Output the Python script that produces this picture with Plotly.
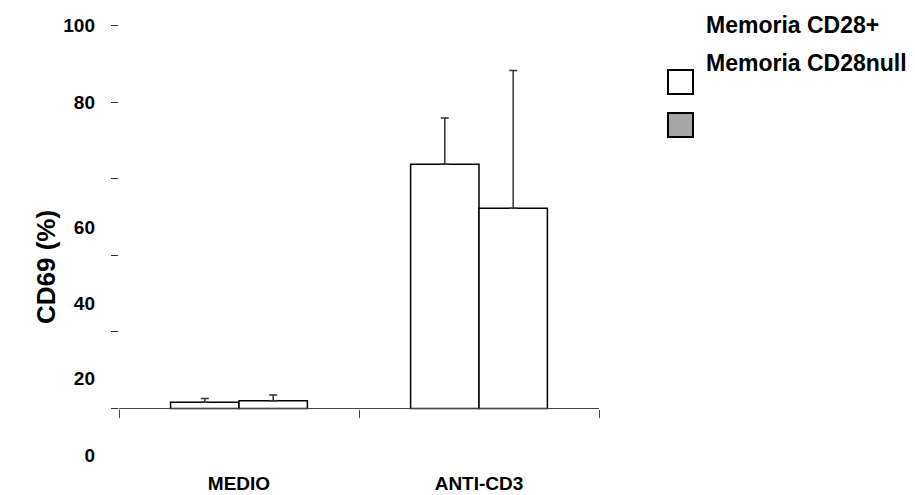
import plotly.graph_objects as go

categories = ["MEDIO", "ANTI-CD3"]
series_names = ["Memoria CD28+", "Memoria CD28null"]
cd28pos = [1.6, 63.8]
cd28pos_err = [1.0, 12.1]
cd28null = [2.0, 52.3]
cd28null_err = [1.5, 36.0]

y_ticks = [0, 20, 40, 60, 80, 100]
# label positions as they appear (shifted) in the original figure
y_label_pos = [100, 80, 47.4, 27.5, 7.9, -12.3]
y_label_text = ["100", "80", "60", "40", "20", "0"]

FONT = "Liberation Sans, Arial, sans-serif"
YMIN, YMAX = -20, 102

fig = go.Figure()
for name, vals, errs in [(series_names[0], cd28pos, cd28pos_err),
                         (series_names[1], cd28null, cd28null_err)]:
    fig.add_trace(go.Bar(
        x=categories, y=vals, name=name,
        marker=dict(color="white", line=dict(color="black", width=1.5)),
        error_y=dict(type="data", symmetric=False, array=errs,
                     arrayminus=[0] * len(errs), color="#333333",
                     thickness=1.5, width=4),
        showlegend=False,
    ))

fig.add_trace(go.Scatter(x=categories, y=[None, None], yaxis="y2",
                         showlegend=False, hoverinfo="skip"))

fig.update_layout(
    width=915, height=495,
    margin=dict(l=119, r=316, t=18, b=10, autoexpand=False),
    paper_bgcolor="white", plot_bgcolor="white",
    barmode="group", bargap=0.43, bargroupgap=0,
    font=dict(family=FONT, color="black"),
    xaxis=dict(
        type="category", range=[-0.5, 1.5], anchor="free",
        position=(0 - YMIN) / (YMAX - YMIN), automargin=False,
        showline=True, linecolor="#444444", linewidth=1.2,
        ticks="outside", tickson="boundaries", ticklen=8,
        tickcolor="#444444", tickwidth=1.2,
        ticklabelstandoff=58,
        tickfont=dict(size=19, family=FONT, weight="bold"),
        showgrid=False, zeroline=False,
    ),
    yaxis=dict(
        range=[YMIN, YMAX], tickvals=y_ticks, showticklabels=False,
        ticks="outside", ticklen=7, tickcolor="#333333", tickwidth=1.3,
        showline=False, showgrid=False, zeroline=False, automargin=False,
    ),
    yaxis2=dict(
        range=[YMIN, YMAX], overlaying="y", side="left", anchor="x",
        tickvals=y_label_pos, ticktext=y_label_text, ticks="",
        ticklabelstandoff=23, automargin=False,
        tickfont=dict(size=19, family=FONT, weight="bold"),
        showline=False, showgrid=False, zeroline=False,
    ),
)

fig.add_annotation(text="CD69 (%)", textangle=-90, xref="paper", yref="paper",
                   x=(29 - 119) / 480, y=(485 - 267) / 467, showarrow=False,
                   font=dict(size=26, family=FONT, weight="bold"))

legend_colors = ["white", "#a6a6a6"]
legend_sq_top = [70, 113]
legend_text_y = [25, 63]
for i, name in enumerate(series_names):
    top = legend_sq_top[i]
    fig.add_shape(type="rect", xref="paper", yref="paper",
                  x0=(668 - 119) / 480, x1=(693 - 119) / 480,
                  y0=(485 - (top + 24)) / 467, y1=(485 - top) / 467,
                  fillcolor=legend_colors[i], line=dict(color="black", width=2))
    fig.add_annotation(text=name, xref="paper", yref="paper",
                       x=(704 - 119) / 480, y=(485 - legend_text_y[i]) / 467,
                       xanchor="left", yanchor="middle", showarrow=False,
                       font=dict(size=23, family=FONT, weight="bold"))

fig.write_html("out.html")
